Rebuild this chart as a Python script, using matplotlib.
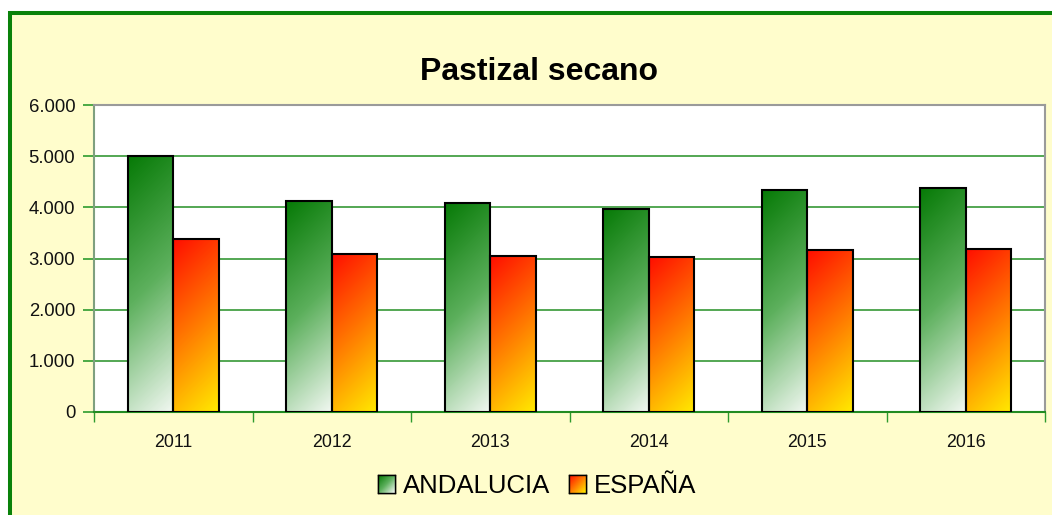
import numpy as np
import matplotlib
matplotlib.use("Agg")
import matplotlib.pyplot as plt
from matplotlib.patches import Rectangle, Patch
from matplotlib.colors import LinearSegmentedColormap

years = ["2011", "2012", "2013", "2014", "2015", "2016"]
andalucia = [5010, 4120, 4090, 3970, 4340, 4380]
espana = [3380, 3090, 3040, 3020, 3165, 3190]
series_names = ["ANDALUCIA", "ESPAÑA"]
yticks = [0, 1000, 2000, 3000, 4000, 5000, 6000]
ytick_labels = ["0", "1.000", "2.000", "3.000", "4.000", "5.000", "6.000"]
title = "Pastizal secano"

plt.rcParams['font.family'] = ['Liberation Sans', 'DejaVu Sans']

W, H = 1052, 515
DPI = 100
fig = plt.figure(figsize=(W / DPI, H / DPI), dpi=DPI, facecolor="white")

# outer chart area with green border
bg = Rectangle((10 / W, -0.1), 1.2, 1 - 13 / H + 0.1, transform=fig.transFigure,
               facecolor="#FFFDCC", edgecolor="#0A820A", linewidth=2.9, zorder=-10)
fig.patches.append(bg)

ax_l, ax_r, ax_b, ax_t = 94 / W, 1045 / W, 1 - 412 / H, 1 - 105 / H
ax = fig.add_axes([ax_l, ax_b, ax_r - ax_l, ax_t - ax_b], zorder=1)
ax.set_facecolor("white")

green_cmap = LinearSegmentedColormap.from_list("g", ["#067A06", "#5DB05D", "#F2F8F2"])
red_cmap = LinearSegmentedColormap.from_list("r", ["#FF0E00", "#FF7A00", "#FFEA00"])

n = len(years)
x = np.arange(n)
bw = 0.287
ax.set_xlim(-0.5, n - 0.5)
ax.set_ylim(0, 6000)

ax_w_px = (ax_r - ax_l) * W
ax_h_px = (ax_t - ax_b) * H
px_per_x = ax_w_px / n
px_per_y = ax_h_px / 6000.0


def grad_bar(xc, val, cmap):
    x0 = xc - bw / 2
    ax.bar(x0, val, width=bw, align="edge", facecolor="none",
           edgecolor="black", linewidth=1.5, zorder=4)
    wp = max(int(round(bw * px_per_x)), 2)
    hp = max(int(round(val * px_per_y)), 2)
    cols, rows = np.meshgrid(np.arange(wp), np.arange(hp))
    t = (cols + rows) / float(wp + hp - 2)
    img = cmap(t)
    im = ax.imshow(img, extent=(x0, x0 + bw, 0, val), origin="upper",
                   aspect="auto", zorder=3, interpolation="bilinear")
    clip = Rectangle((x0, 0), bw, val, transform=ax.transData)
    im.set_clip_path(clip)


for i in range(n):
    grad_bar(x[i] - bw / 2, andalucia[i], green_cmap)
    grad_bar(x[i] + bw / 2, espana[i], red_cmap)

ax.set_xlim(-0.5, n - 0.5)
ax.set_ylim(0, 6000)

ax.set_yticks(yticks)
ax.set_yticklabels(ytick_labels, fontsize=13.3, color="#111111")
ax.yaxis.grid(True, color="#45A045", linewidth=1.3, zorder=1)
ax.set_axisbelow(True)

ax.set_xticks(np.arange(-0.5, n, 1.0))
ax.set_xticklabels([])
ax.set_xticks(x, minor=True)
ax.set_xticklabels(years, minor=True, fontsize=12.8, color="#111111")
ax.tick_params(axis="x", which="major", length=7.5, width=1, color="#2E9B2E", direction="out")
ax.tick_params(axis="x", which="minor", length=0, pad=15.5)
ax.tick_params(axis="y", length=8, width=1.2, color="#2E9B2E", pad=5.5)

for s in ["top", "right"]:
    ax.spines[s].set_color("#9A9A9A")
    ax.spines[s].set_linewidth(1.5)
ax.spines["left"].set_color("#7FA07F")
ax.spines["left"].set_linewidth(1.5)
ax.spines["bottom"].set_color("#228B22")
ax.spines["bottom"].set_linewidth(1.5)

fig.text(539 / W, 1 - 72 / H, title, ha="center", va="center",
         fontsize=23, fontweight="bold", color="black")

handles = [Patch(facecolor="#5DB05D", edgecolor="black", linewidth=1),
           Patch(facecolor="#FF7A00", edgecolor="black", linewidth=1)]
leg = fig.legend(handles, series_names, loc="center",
                 bbox_to_anchor=(537 / W, 1 - 486 / H), ncol=2, frameon=False,
                 fontsize=18.5, handlelength=0.66, handleheight=0.66,
                 handletextpad=0.3, columnspacing=0.75)

fig.canvas.draw()
renderer = fig.canvas.get_renderer()
for patch, cmap in zip(leg.get_patches(), [green_cmap, red_cmap]):
    bb = patch.get_window_extent(renderer)
    bbf = bb.transformed(fig.transFigure.inverted())
    lax = fig.add_axes([bbf.x0, bbf.y0, bbf.width, bbf.height], zorder=20)
    wp = max(int(round(bb.width)), 2)
    hp = max(int(round(bb.height)), 2)
    cols, rows = np.meshgrid(np.arange(wp), np.arange(hp))
    t = (cols + rows) / float(wp + hp - 2)
    lax.imshow(cmap(t), aspect="auto", origin="upper", interpolation="bilinear")
    lax.set_xticks([])
    lax.set_yticks([])
    for s in lax.spines.values():
        s.set_color("black")
        s.set_linewidth(1)

fig.savefig("out.png", dpi=DPI, facecolor="white")
